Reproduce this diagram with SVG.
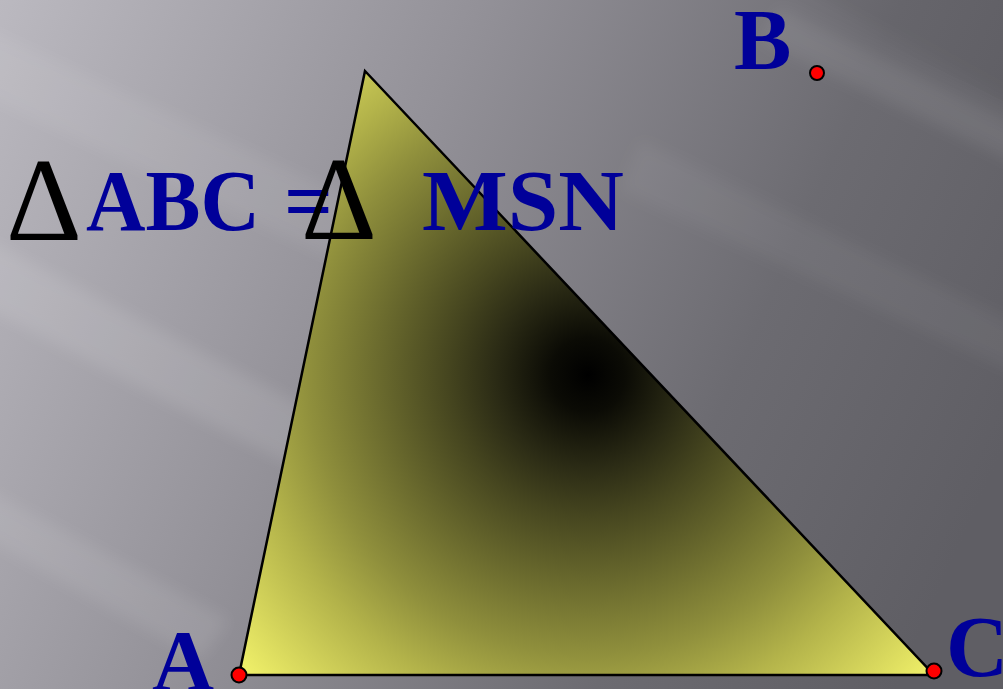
<svg xmlns="http://www.w3.org/2000/svg" width="1003" height="689" viewBox="0 0 1003 689">
<defs>
<linearGradient id="bg" x1="0" y1="0" x2="1003" y2="450" gradientUnits="userSpaceOnUse">
<stop offset="0" stop-color="#bbb9c0"/>
<stop offset="0.4" stop-color="#939198"/>
<stop offset="0.75" stop-color="#6c6b71"/>
<stop offset="1" stop-color="#5f5e64"/>
</linearGradient>
<radialGradient id="tri" cx="588" cy="375" r="465" gradientUnits="userSpaceOnUse">
<stop offset="0" stop-color="#000000"/>
<stop offset="0.08" stop-color="#0b0b05"/>
<stop offset="0.2" stop-color="#2b2b15"/>
<stop offset="0.3" stop-color="#45451f"/>
<stop offset="0.6" stop-color="#8f8f3c"/>
<stop offset="0.73" stop-color="#b3b34a"/>
<stop offset="1" stop-color="#f6f66c"/>
</radialGradient>
<filter id="soft" x="-20%" y="-20%" width="140%" height="140%"><feGaussianBlur stdDeviation="8"/></filter>
<style>
.lbl{font-family:"Liberation Serif","Times New Roman",serif;font-weight:bold;fill:#000099;font-size:86px}
.del{font-family:"Liberation Serif","Times New Roman",serif;fill:#000;font-size:118px}
.pt{fill:#ff0000;stroke:#000;stroke-width:2}
</style>
</defs>
<rect width="1003" height="689" fill="url(#bg)"/>
<g filter="url(#soft)">
<polygon points="790,-20 1030,-20 1030,112" fill="#000000" opacity="0.05"/>
<polygon points="780,8 1030,130 1030,170 760,40" fill="#ffffff" opacity="0.08"/>
<polygon points="-30,230 -30,300 300,470 330,420" fill="#ffffff" opacity="0.11"/>
<polygon points="-30,480 -30,530 200,660 230,620" fill="#ffffff" opacity="0.09"/>
<polygon points="-30,20 -30,90 420,300 440,240" fill="#ffffff" opacity="0.07"/>
<polygon points="640,140 1030,330 1030,380 620,190" fill="#ffffff" opacity="0.05"/>
</g>
<g id="triangle">
<polygon points="365,71 239,675 934,675" fill="url(#tri)" stroke="#000" stroke-width="2.5"/>
</g>
<g id="title">
<text class="del" x="6" y="240">Δ</text>
<text class="lbl" x="86" y="230" textLength="174" lengthAdjust="spacingAndGlyphs">ABC</text>
<text class="lbl" x="284" y="230">=</text>
<text class="del" x="301" y="239">Δ</text>
<text class="lbl" x="422" y="230" textLength="202" lengthAdjust="spacingAndGlyphs">MSN</text>
</g>
<g id="pointA">
<circle class="pt" cx="239" cy="675" r="7.5"/>
<text class="lbl" x="152" y="690">A</text>
</g>
<g id="pointB">
<circle class="pt" cx="817" cy="73" r="7"/>
<text class="lbl" x="734" y="69">B</text>
</g>
<g id="pointC">
<circle class="pt" cx="934" cy="671" r="7.5"/>
<text class="lbl" x="946" y="676">C</text>
</g>
</svg>
